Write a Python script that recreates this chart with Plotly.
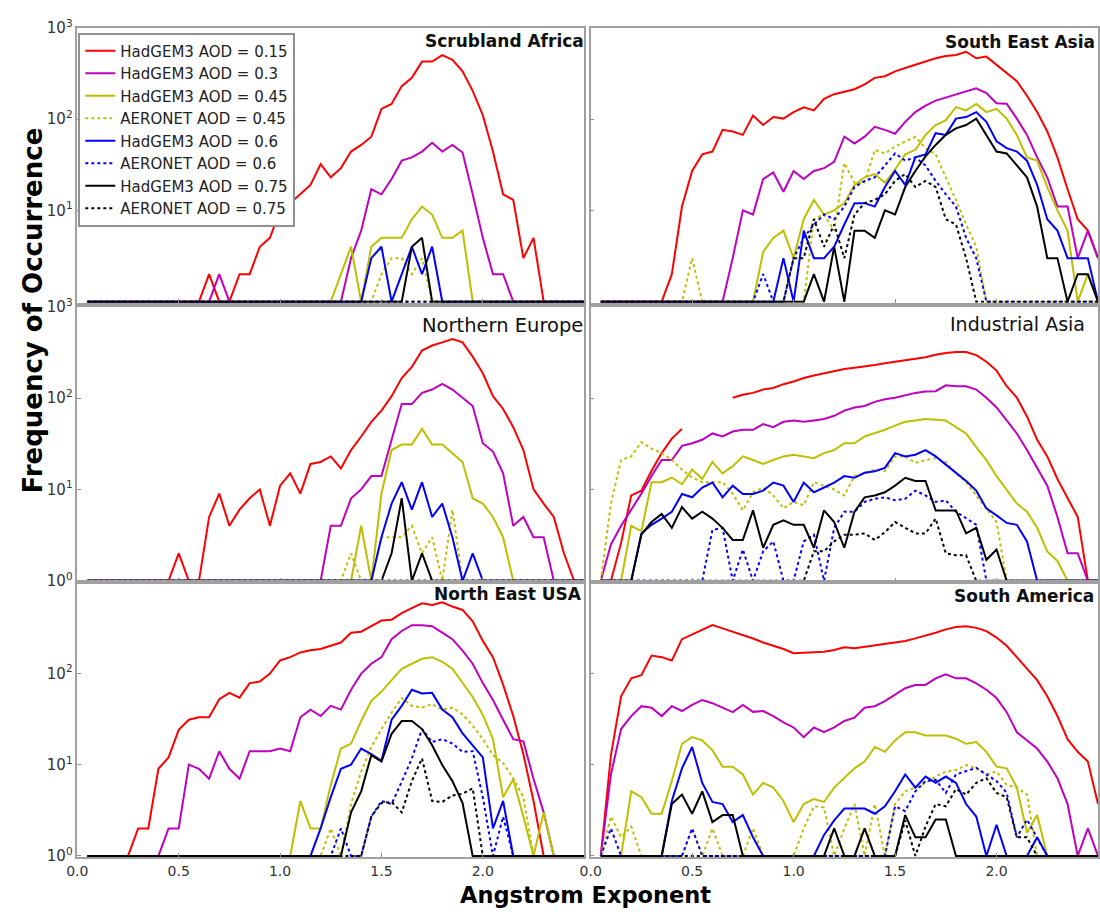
import plotly.graph_objects as go

# Angstrom exponent bin centres
AE = [0.05, 0.10, 0.15, 0.20, 0.25, 0.30, 0.35, 0.40, 0.45, 0.50,
      0.55, 0.60, 0.65, 0.70, 0.75, 0.80, 0.85, 0.90, 0.95, 1.00,
      1.05, 1.10, 1.15, 1.20, 1.25, 1.30, 1.35, 1.40, 1.45, 1.50,
      1.55, 1.60, 1.65, 1.70, 1.75, 1.80, 1.85, 1.90, 1.95, 2.00,
      2.05, 2.10, 2.15, 2.20, 2.25, 2.30, 2.35, 2.40, 2.45, 2.50]

# ---------------- Scrubland Africa ----------------
scrub_h015 = [1, 1, 1, 1, 1, 1, 1, 1, 1, 1, 1, 1, 2, 1, 1, 2, 2, 4, 5, 10,
              12, 15, 19, 32, 23, 29, 44, 52, 64, 129, 146, 229, 282, 425, 425, 500, 444, 332, 203, 110,
              44, 15, 13, 3, 5, 1, 1, 1, 1, 1]
scrub_h030 = [1, 1, 1, 1, 1, 1, 1, 1, 1, 1, 1, 1, 1, 2, 1, 1, 1, 1, 1, 1,
              1, 1, 1, 1, 1, 1, 3, 6, 17, 15, 22, 35, 38, 44, 55, 44, 52, 43, 15, 5,
              2, 2, 1, 1, 1, 1, 1, 1, 1, 1]
scrub_h045 = [1, 1, 1, 1, 1, 1, 1, 1, 1, 1, 1, 1, 1, 1, 1, 1, 1, 1, 1, 1,
              1, 1, 1, 1, 1, 2, 4, 1, 4, 5, 5, 5, 8, 11, 9, 5, 5, 6, 1, 1,
              1, 1, 1, 1, 1, 1, 1, 1, 1, 1]
scrub_a045 = [1, 1, 1, 1, 1, 1, 1, 1, 1, 1, 1, 1, 1, 1, 1, 1, 1, 1, 1, 1,
              1, 1, 1, 1, 1, 1, 1, 1, 1, 2, 3, 3, 2, 3, 1, 1, 1, 1, 1, 1,
              1, 1, 1, 1, 1, 1, 1, 1, 1, 1]
scrub_h060 = [1, 1, 1, 1, 1, 1, 1, 1, 1, 1, 1, 1, 1, 1, 1, 1, 1, 1, 1, 1,
              1, 1, 1, 1, 1, 1, 1, 1, 3, 4, 1, 2, 4, 2, 4, 1, 1, 1, 1, 1,
              1, 1, 1, 1, 1, 1, 1, 1, 1, 1]
scrub_a060 = [1, 1, 1, 1, 1, 1, 1, 1, 1, 1, 1, 1, 1, 1, 1, 1, 1, 1, 1, 1,
              1, 1, 1, 1, 1, 1, 1, 1, 1, 1, 1, 1, 1, 1, 1, 1, 1, 1, 1, 1,
              1, 1, 1, 1, 1, 1, 1, 1, 1, 1]
scrub_h075 = [1, 1, 1, 1, 1, 1, 1, 1, 1, 1, 1, 1, 1, 1, 1, 1, 1, 1, 1, 1,
              1, 1, 1, 1, 1, 1, 1, 1, 1, 1, 1, 1, 4, 5, 1, 1, 1, 1, 1, 1,
              1, 1, 1, 1, 1, 1, 1, 1, 1, 1]
scrub_a075 = [1, 1, 1, 1, 1, 1, 1, 1, 1, 1, 1, 1, 1, 1, 1, 1, 1, 1, 1, 1,
              1, 1, 1, 1, 1, 1, 1, 1, 1, 1, 1, 1, 1, 1, 1, 1, 1, 1, 1, 1,
              1, 1, 1, 1, 1, 1, 1, 1, 1, 1]

# ---------------- South East Asia ----------------
sea_h015 = [1, 1, 1, 1, 1, 1, 1, 2, 11, 27, 41, 44, 76, 73, 67, 109, 86, 105, 101, 119,
            134, 124, 166, 187, 198, 212, 239, 282, 294, 332, 361, 392, 425, 462, 490, 502, 545, 462, 482, 392,
            320, 260, 180, 119, 73, 38, 17, 8, 6, 3]
sea_h030 = [1, 1, 1, 1, 1, 1, 1, 1, 1, 1, 1, 1, 1, 3, 10, 9, 22, 26, 16, 27,
            22, 27, 29, 34, 64, 54, 64, 82, 76, 69, 93, 119, 140, 159, 172, 187, 204, 217, 192, 149,
            147, 101, 67, 38, 23, 11, 11, 3, 6, 3]
sea_h045 = [1, 1, 1, 1, 1, 1, 1, 1, 1, 1, 1, 1, 1, 1, 1, 1, 3.5, 5, 6, 3,
            8, 13, 9, 10, 12, 19, 23, 25, 20, 28, 41, 46, 67, 86, 97, 135, 124, 146, 119, 129,
            101, 67, 38, 35, 18, 10, 6, 1, 2, 1]
sea_a045 = [1, 1, 1, 1, 1, 1, 1, 1, 1, 3, 1, 1, 1, 1, 1, 1, 1, 1, 1, 1,
            1, 8, 9, 6, 33, 20, 20, 46, 42, 50, 56, 64, 48, 41, 23, 13, 7, 4, 1, 1,
            1, 1, 1, 1, 1, 1, 1, 1, 1, 1]
sea_h060 = [1, 1, 1, 1, 1, 1, 1, 1, 1, 1, 1, 1, 1, 1, 1, 1, 1, 1, 3, 1,
            6, 3, 3, 4, 7, 12, 12, 11, 18, 27, 19, 38, 41, 70, 67, 101, 105, 119, 93, 57,
            48, 44, 35, 19, 8, 6, 3, 3, 3, 1]
sea_a060 = [1, 1, 1, 1, 1, 1, 1, 1, 1, 1, 1, 1, 1, 1, 1, 1, 2, 1, 1, 3,
            5, 7, 9, 8, 11, 18, 21, 23, 31, 42, 35, 38, 31, 21, 15, 11, 5, 3, 1, 1,
            1, 1, 1, 1, 1, 1, 1, 1, 1, 1]
sea_h075 = [1, 1, 1, 1, 1, 1, 1, 1, 1, 1, 1, 1, 1, 1, 1, 1, 1, 1, 1, 1,
            1, 2, 1, 4, 1, 6, 6, 5, 10, 9, 18, 27, 39, 52, 67, 79, 86, 101, 67, 44,
            42, 31, 23, 11, 3, 3, 1, 2, 2, 1]
sea_a075 = [1, 1, 1, 1, 1, 1, 1, 1, 1, 1, 1, 1, 1, 1, 1, 1, 1, 1, 1, 3,
            3, 8, 4, 7, 3, 9, 12, 13, 15, 21, 25, 18, 21, 18, 8, 7, 3, 1, 1, 1,
            1, 1, 1, 1, 1, 1, 1, 1, 1, 1]

# ---------------- Northern Europe ----------------
neu_h015 = [1, 1, 1, 1, 1, 1, 1, 1, 1, 2, 1, 1, 5, 9, 4, 6, 8, 10, 4, 11,
            15, 9, 19, 20, 23, 17, 27, 38, 55, 73, 105, 166, 220, 332, 376, 407, 443, 407, 284, 187,
            105, 76, 48, 27, 10, 7, 5, 2, 1, 1]
neu_h030 = [1, 1, 1, 1, 1, 1, 1, 1, 1, 1, 1, 1, 1, 1, 1, 1, 1, 1, 1, 1,
            1, 1, 1, 1, 4, 4, 8, 10, 14, 14, 35, 86, 86, 114, 124, 143, 124, 100, 82, 32,
            26, 15, 4, 5, 3, 3, 1, 1, 1, 1]
neu_h045 = [1, 1, 1, 1, 1, 1, 1, 1, 1, 1, 1, 1, 1, 1, 1, 1, 1, 1, 1, 1,
            1, 1, 1, 1, 1, 1, 1, 4, 1, 9, 27, 31, 31, 46, 31, 31, 25, 20, 8, 7,
            5, 3, 1, 1, 1, 1, 1, 1, 1, 1]
neu_a045 = [1, 1, 1, 1, 1, 1, 1, 1, 1, 1, 1, 1, 1, 1, 1, 1, 1, 1, 1, 1,
            1, 1, 1, 1, 1, 1, 2, 1, 1, 3, 3, 3, 4, 2, 3, 1, 6, 1, 1, 1,
            1, 1, 1, 1, 1, 1, 1, 1, 1, 1]
neu_h060 = [1, 1, 1, 1, 1, 1, 1, 1, 1, 1, 1, 1, 1, 1, 1, 1, 1, 1, 1, 1,
            1, 1, 1, 1, 1, 1, 1, 1, 1, 3, 7, 12, 6, 12, 5, 7, 3, 1, 2, 1,
            1, 1, 1, 1, 1, 1, 1, 1, 1, 1]
neu_a060 = [1, 1, 1, 1, 1, 1, 1, 1, 1, 1, 1, 1, 1, 1, 1, 1, 1, 1, 1, 1,
            1, 1, 1, 1, 1, 1, 1, 1, 1, 1, 1, 1, 1, 1, 1, 1, 1, 1, 1, 1,
            1, 1, 1, 1, 1, 1, 1, 1, 1, 1]
neu_h075 = [1, 1, 1, 1, 1, 1, 1, 1, 1, 1, 1, 1, 1, 1, 1, 1, 1, 1, 1, 1,
            1, 1, 1, 1, 1, 1, 1, 1, 1, 1, 2, 8, 1, 2, 1, 1, 1, 1, 1, 1,
            1, 1, 1, 1, 1, 1, 1, 1, 1, 1]
neu_a075 = [1, 1, 1, 1, 1, 1, 1, 1, 1, 1, 1, 1, 1, 1, 1, 1, 1, 1, 1, 1,
            1, 1, 1, 1, 1, 1, 1, 1, 1, 1, 1, 1, 1, 1, 1, 1, 1, 1, 1, 1,
            1, 1, 1, 1, 1, 1, 1, 1, 1, 1]

# ---------------- Industrial Asia ----------------
ind_h015 = [1, 1, 2.6, 8.6, 9.7, 16, 25, 36, 46, None, None, None, None, 101, 109, 114, 124, 129, 142, 152,
            166, 177, 187, 195, 208, 215, 221, 230, 240, 250, 262, 270, 280, 298, 312, 320, 320, 295, 250, 200,
            135, 101, 63, 35, 23, 13, 8, 5, 1, 1]
ind_h030 = [1, 2.5, 4, 6, 9, 14, 21, 21, 30, 32, 35, 41, 38, 43, 45, 45, 52, 48, 55, 57,
            55, 57, 59, 64, 73, 79, 82, 91, 97, 101, 107, 114, 118, 119, 138, 135, 135, 124, 101, 79,
            57, 41, 27, 17, 11, 5, 2, 2, 1, 1]
ind_h045 = [1, 1, 1, 4, 3.5, 12, 12, 13.5, 11.4, 16.5, 13, 20, 15, 18, 23, 21, 19, 21, 23, 24,
            23, 22, 25, 27, 32, 32, 38, 41, 45, 50, 55, 57, 59, 58, 57, 48, 41, 29, 21, 14,
            10, 7, 5.7, 3.8, 2.1, 1.65, 1, 1, 1, 1]
ind_a045 = [1, 7, 21, 23, 33, 28, 25, 21, 16.5, 13.5, 12, 12, 12, 9, 5.9, 9.3, 10.5, 8.6, 6.2, 7.3,
            6.7, 12, 11, 10, 8.6, 14, 15, 16.5, 15.9, 23, 23, 19.5, 21, 22, 20, 15, 12, 8.6, 6.2, 4.4,
            1, 1, 1, 1, 1, 1, 1, 1, 1, 1]
ind_h060 = [1, 1, 1, 1, 3.3, 4.1, 4.8, 5.7, 8.9, 8.2, 10.5, 11.9, 8.2, 11, 8.9, 8.9, 9.7, 11.9, 11, 7.3,
            11.9, 9.3, 10.5, 11.9, 14, 13.4, 15.2, 15.8, 17.2, 25, 23, 24, 27, 23, 18.7, 15.2, 12.4, 9.7, 6.2, 5.2,
            4.3, 4.1, 2.7, 1, 1, 1, 1, 1, 1, 1]
ind_a060 = [1, 1, 1, 1, 1, 1, 1, 1, 1, 1, 1, 3.6, 3.8, 1, 2.2, 1, 2.1, 2.7, 1, 1,
            2.7, 3.2, 1, 3.8, 5.7, 5.7, 7.3, 7.9, 8.2, 7.6, 7.9, 9.7, 8.6, 7.3, 7.6, 5.7, 4.8, 4.1, 1, 1,
            1, 1, 1, 1, 1, 1, 1, 1, 1, 1]
ind_h075 = [1, 1, 1, 1, 3.2, 4.4, 5.4, 3.8, 6.4, 4.8, 5.7, 4.8, 3.8, 2.8, 2.8, 5.9, 2.3, 4.1, 4.6, 4.1,
            4.1, 2.3, 5.9, 4.4, 2.3, 5.7, 8.2, 8.6, 9.3, 11, 13.4, 12.4, 12.4, 5.9, 5.9, 5.9, 3.3, 3.8, 1.7, 2.2,
            1, 1, 1, 1, 1, 1, 1, 1, 1, 1]
ind_a075 = [1, 1, 1, 1, 1, 1, 1, 1, 1, 1, 1, 1, 1, 1, 1, 1, 1, 1, 1, 1,
            1, 2.1, 2.1, 2.7, 3.2, 3.2, 3.3, 2.8, 3.4, 4.4, 3.8, 3.3, 3.3, 4.8, 2, 1.9, 1.9, 1, 1, 1,
            1, 1, 1, 1, 1, 1, 1, 1, 1, 1]

# ---------------- North East USA ----------------
neusa_h015 = [1, 1, 1, 1, 1, 2, 2, 9, 12, 24, 31, 33, 33, 52, 61, 54, 78, 81, 99, 138,
              150, 169, 179, 184, 200, 217, 278, 285, 327, 377, 386, 456, 516, 582, 559, 597, 537, 493, 370, 226,
              150, 75, 34, 13, 4, 1, 1, 1, 1, 1]
neusa_h030 = [1, 1, 1, 1, 1, 1, 1, 1, 2, 2, 10, 9, 7, 14, 9, 7, 14, 14, 14, 15,
              14, 33, 40, 34, 44, 40, 66, 99, 127, 150, 236, 290, 336, 336, 327, 278, 236, 177, 127, 78,
              51, 31, 19, 18, 7, 3, 1, 1, 1, 1]
neusa_h045 = [1, 1, 1, 1, 1, 1, 1, 1, 1, 1, 1, 1, 1, 1, 1, 1, 1, 1, 1, 1,
              1, 4, 2, 2, 6, 15, 17, 30, 50, 63, 84, 112, 127, 144, 150, 133, 112, 78, 55, 35,
              19, 4.4, 6.9, 2.7, 1, 3, 1, 1, 1, 1]
neusa_a045 = [1, 1, 1, 1, 1, 1, 1, 1, 1, 1, 1, 1, 1, 1, 1, 1, 1, 1, 1, 1,
              1, 1, 1, 1, 2, 1, 3.7, 8.4, 15.6, 24.5, 37, 53.5, 44, 42, 46, 40, 42, 35.5, 26.6, 19,
              12.7, 10.4, 7.1, 4.4, 1, 1, 1, 1, 1, 1]
neusa_h060 = [1, 1, 1, 1, 1, 1, 1, 1, 1, 1, 1, 1, 1, 1, 1, 1, 1, 1, 1, 1,
              1, 1, 1, 2, 4.4, 9, 10, 15, 13, 11, 31, 44, 66, 60, 61, 40, 33, 22, 16, 12,
              2, 4, 1, 1, 1, 1, 1, 1, 1, 1]
neusa_a060 = [1, 1, 1, 1, 1, 1, 1, 1, 1, 1, 1, 1, 1, 1, 1, 1, 1, 1, 1, 1,
              1, 1, 1, 1, 1, 2, 1, 1, 2.7, 4, 3.7, 6.5, 11.7, 24.5, 17.7, 19, 17, 13.8, 14, 4.4,
              1, 2.7, 1, 1, 1, 1, 1, 1, 1, 1]
neusa_h075 = [1, 1, 1, 1, 1, 1, 1, 1, 1, 1, 1, 1, 1, 1, 1, 1, 1, 1, 1, 1,
              1, 1, 1, 1, 1, 1, 3, 5.1, 12.7, 10.8, 21.7, 30, 30, 24.5, 16.3, 9.9, 6.6, 3.8, 1, 1,
              1, 1, 1, 1, 1, 1, 1, 1, 1, 1]
neusa_a075 = [1, 1, 1, 1, 1, 1, 1, 1, 1, 1, 1, 1, 1, 1, 1, 1, 1, 1, 1, 1,
              1, 1, 1, 1, 1, 1, 1, 1, 2.7, 3.8, 3.9, 3, 6.6, 11.7, 4, 3.9, 4.6, 4.8, 5.5, 1,
              1, 1, 1, 1, 1, 1, 1, 1, 1, 1]

# ---------------- South America ----------------
sam_h015 = [1, 12.7, 56, 88, 95, 156, 150, 138, 236, 267, 302, 336, 310, 285, 262, 240, 217, 200, 184, 166,
            169, 172, 172, 180, 192, 188, 195, 200, 209, 217, 226, 241, 257, 278, 302, 320, 327, 314, 289, 246,
            200, 150, 112, 84, 56, 34, 19, 13.8, 10.8, 3.7]
sam_h030 = [1, 7.8, 24.5, 34, 43.6, 42, 34, 43.6, 38.6, 45, 51, 47, 42, 37.5, 45, 37.8, 38.6, 34, 29, 25.5,
            20, 25.5, 22.6, 25.5, 30, 32.7, 42, 43.6, 49.5, 58, 68.6, 74.5, 74.5, 88, 97.6, 88, 88, 77.6, 66, 53.5,
            37.5, 22.6, 18.4, 15, 10.8, 7.1, 3.7, 1, 2, 1]
sam_h045 = [1, 1, 1, 5.1, 4.4, 2.9, 2.9, 6.6, 16.9, 20, 18.4, 14.4, 9.5, 9.5, 7.8, 4.7, 6.3, 5.6, 4, 2.35,
            3.7, 4.2, 3.9, 5.6, 7.1, 9.1, 10.8, 15.6, 13.8, 18.4, 22.6, 22.6, 20.8, 20.8, 20.8, 19.2, 16.9, 17.7, 13.8, 9.5,
            9.1, 5.6, 1.8, 2.8, 1, 1, 1, 1, 1, 1]
sam_a045 = [1, 2.7, 1.6, 2.1, 1, 1, 1, 1, 1, 2, 1, 2, 1, 1, 1, 2, 1, 1, 1, 1,
            2, 3.5, 3.4, 1, 2, 3.7, 1, 3.7, 1, 3.7, 5.1, 5.6, 6.3, 7.4, 8.4, 8.7, 9.9, 9.1, 7.8, 8.4,
            6, 5.6, 4.7, 1, 1, 1, 1, 1, 1, 1]
sam_h060 = [1, 1, 1, 1, 1, 1, 1, 4, 9.1, 15.6, 6.3, 3.9, 3.7, 2.35, 2.8, 1.6, 1, 1, 1, 1,
            1, 1, 1.7, 2.45, 3.3, 3.3, 3.3, 2.9, 3.5, 5.1, 7.8, 5.6, 7.4, 6.3, 7.4, 6.3, 3.7, 2.7, 1, 2.2,
            1, 1, 1, 1.6, 1, 1, 1, 1, 1, 1]
sam_a060 = [1, 2, 1, 1, 1, 1, 1, 1, 1, 2, 1, 1, 1, 1, 1, 1, 1, 1, 1, 1,
            1, 1, 1, 1, 1, 1, 1, 1, 1, 3.5, 3.1, 5.1, 6.6, 6.8, 4.9, 7.8, 8.4, 9.2, 7.8, 6.6,
            4.9, 1.6, 2.5, 1.6, 1, 1, 1, 1, 1, 1]
sam_h075 = [1, 1, 1, 1, 1, 1, 1, 3.7, 4.7, 2.9, 5.1, 2.35, 2.8, 2.8, 1, 1, 1, 1, 1, 1,
            1, 1, 1, 2, 1, 1, 2, 1, 1, 1, 2.8, 1.6, 1.6, 2.5, 2.5, 1, 1, 1, 1, 1,
            1, 1, 1, 1, 1, 1, 1, 1, 1, 1]
sam_a075 = [1, 1, 1, 1, 1, 1, 1, 1, 1, 1, 1, 1, 1, 1, 1, 1, 1, 1, 1, 1,
            1, 1, 1, 1, 1, 1, 1, 1, 1, 1, 2.45, 1, 2.1, 3.7, 3.5, 5.4, 4.7, 6.3, 7.1, 4.9,
            4.4, 1.6, 1.6, 1, 1, 1, 1, 1, 1, 1]

SERIES_NAMES = ["HadGEM3 AOD = 0.15", "HadGEM3 AOD = 0.3", "HadGEM3 AOD = 0.45", "AERONET AOD = 0.45",
                "HadGEM3 AOD = 0.6", "AERONET AOD = 0.6", "HadGEM3 AOD = 0.75", "AERONET AOD = 0.75"]
SERIES_COLORS = ["#ff0000", "#bf00bf", "#bfbf00", "#bfbf00", "#0000ff", "#0000ff", "#000000", "#000000"]
SERIES_DASH = ["solid", "solid", "solid", "dot", "solid", "dot", "solid", "dot"]

PANELS = [
    ("Scrubland Africa", [scrub_h015, scrub_h030, scrub_h045, scrub_a045, scrub_h060, scrub_a060, scrub_h075, scrub_a075]),
    ("South East Asia", [sea_h015, sea_h030, sea_h045, sea_a045, sea_h060, sea_a060, sea_h075, sea_a075]),
    ("Northern Europe", [neu_h015, neu_h030, neu_h045, neu_a045, neu_h060, neu_a060, neu_h075, neu_a075]),
    ("Industrial Asia", [ind_h015, ind_h030, ind_h045, ind_a045, ind_h060, ind_a060, ind_h075, ind_a075]),
    ("North East USA", [neusa_h015, neusa_h030, neusa_h045, neusa_a045, neusa_h060, neusa_a060, neusa_h075, neusa_a075]),
    ("South America", [sam_h015, sam_h030, sam_h045, sam_a045, sam_h060, sam_a060, sam_h075, sam_a075]),
]

W, H = 1100, 915
FONT = "DejaVu Sans"

# panel frames in pixels: (left, right) per column, (top, bottom) per row
COLS = [(67, 579), (585.5, 1098)]
ROWS = [(17, 298), (302, 583), (583, 864)]

fig = go.Figure()
layout = {}

for i, (title, series) in enumerate(PANELS):
    r, c = divmod(i, 2)
    n = "" if i == 0 else str(i + 1)
    xa, ya = "x" + n, "y" + n
    for s, vals in enumerate(series):
        fig.add_trace(go.Scatter(
            x=AE, y=vals, xaxis=xa, yaxis=ya, mode="lines",
            name=SERIES_NAMES[s], legendgroup=SERIES_NAMES[s], showlegend=(i == 0),
            line=dict(color=SERIES_COLORS[s], width=2, dash=SERIES_DASH[s]),
            connectgaps=False, hoverinfo="skip"))

    x0, x1 = COLS[c]
    y0, y1 = ROWS[r]
    bottom = r == 2
    layout["xaxis" + n] = dict(
        domain=[x0 / W, x1 / W], anchor=ya, range=[0, 2.5],
        showline=True, mirror=True, linecolor="#a0a0a0", linewidth=1.5,
        showgrid=False, zeroline=False,
        ticks="inside", ticklen=4, tickcolor="#909090",
        tickvals=[0, 0.5, 1.0, 1.5, 2.0] if bottom else [0.5, 1.0, 1.5, 2.0],
        ticktext=["0.0", "0.5", "1.0", "1.5", "2.0"] if bottom else None,
        showticklabels=bottom,
        tickfont=dict(family=FONT, size=14, color="#333333"))
    if r == 0:
        yt = [10, 100, 1000]
    elif r == 1:
        yt = [1, 10, 100, 1000]
    else:
        yt = [1, 10, 100]
    layout["yaxis" + n] = dict(
        domain=[1 - y1 / H, 1 - y0 / H], anchor=xa, type="log", range=[-0.012, 3],
        showline=True, mirror=True, linecolor="#a0a0a0", linewidth=1.5,
        showgrid=False, zeroline=False,
        ticks="inside", ticklen=4, tickcolor="#909090",
        tickvals=yt, ticktext=["10<sup>%d</sup>" % len(str(v)[1:]) for v in yt],
        showticklabels=(c == 0),
        tickfont=dict(family=FONT, size=15, color="#333333"))

# panel titles, right aligned in each frame: (right edge px, centre px, bold, size)
TITLE_POS = [(581, 31, True, 17), (1097, 32, True, 17), (580, 321, False, 19.5),
             (1087, 320, False, 19), (579, 595, True, 17), (1096, 597, True, 17)]
annotations = []
for (title, _), (tx, ty, bold, fs) in zip(PANELS, TITLE_POS):
    annotations.append(dict(
        text="<b>%s</b>" % title if bold else title, xref="paper", yref="paper",
        x=tx / W, y=1 - ty / H, xanchor="right", yanchor="middle", showarrow=False,
        font=dict(family=FONT, size=fs, color="#111111")))

annotations.append(dict(
    text="<b>Frequency of Occurrence</b>", xref="paper", yref="paper",
    x=22 / W, y=1 - 306 / H, textangle=-90, showarrow=False,
    xanchor="center", yanchor="middle",
    font=dict(family=FONT, size=26, color="#000000")))
annotations.append(dict(
    text="<b>Angstrom Exponent</b>", xref="paper", yref="paper",
    x=580 / W, y=1 - 902.5 / H, showarrow=False,
    xanchor="center", yanchor="middle",
    font=dict(family=FONT, size=22.5, color="#000000")))

fig.update_layout(
    width=W, height=H, margin=dict(l=0, r=0, t=0, b=0),
    paper_bgcolor="white", plot_bgcolor="white",
    font=dict(family=FONT),
    showlegend=True,
    legend=dict(x=68 / W, y=1 - 22 / H, xanchor="left", yanchor="top",
                bgcolor="white", bordercolor="#909090", borderwidth=2,
                font=dict(family=FONT, size=15, color="#222222"),
                tracegroupgap=0, itemwidth=30),
    annotations=annotations,
    **layout)

# page without the default body margin so the figure sits at the window origin
fig.write_html("out.html",
               post_script="document.body.style.margin='0';document.body.style.overflow='hidden';")
